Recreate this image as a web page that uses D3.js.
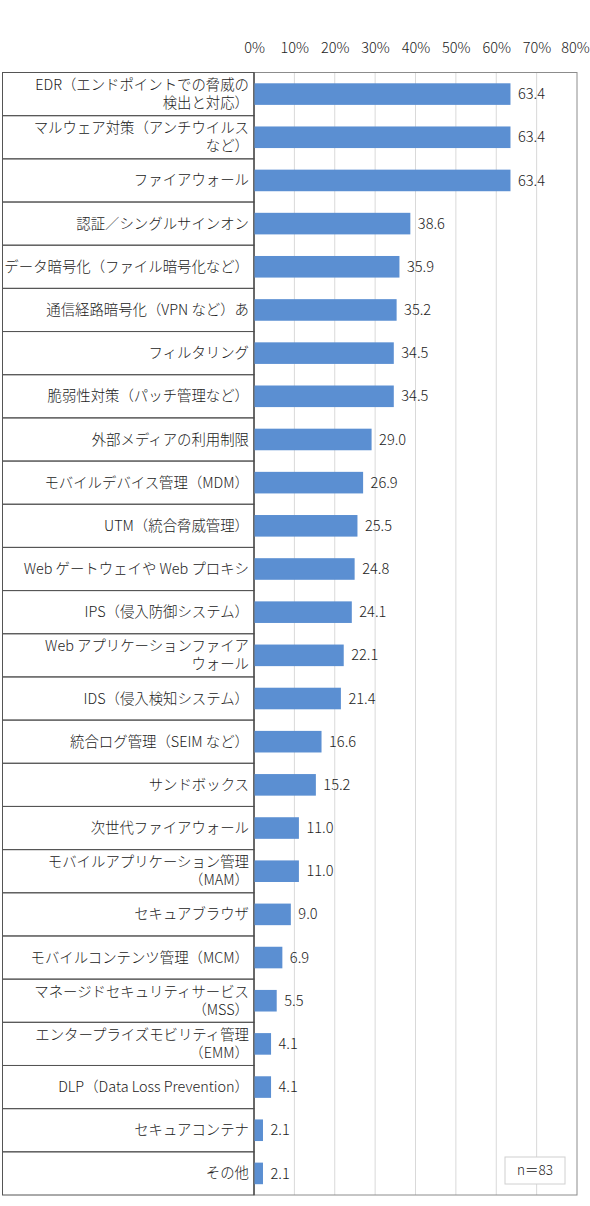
<!DOCTYPE html>
<html><head><meta charset="utf-8">
<script src="https://cdn.jsdelivr.net/npm/d3@7"></script>
<style>
html,body{margin:0;padding:0;background:#fff;}
text{font-family:"Noto Sans CJK JP","Noto Sans",sans-serif;font-weight:300;}
</style></head>
<body><svg id="c" width="590" height="1206"></svg>
<script>
const categories = [
 ["EDR（エンドポイントでの脅威の","検出と対応）"],
 ["マルウェア対策（アンチウイルス","など）"],
 ["ファイアウォール"],
 ["認証／シングルサインオン"],
 ["データ暗号化（ファイル暗号化など）"],
 ["通信経路暗号化（VPN など）あ"],
 ["フィルタリング"],
 ["脆弱性対策（パッチ管理など）"],
 ["外部メディアの利用制限"],
 ["モバイルデバイス管理（MDM）"],
 ["UTM（統合脅威管理）"],
 ["Web ゲートウェイや Web プロキシ"],
 ["IPS（侵入防御システム）"],
 ["Web アプリケーションファイア","ウォール"],
 ["IDS（侵入検知システム）"],
 ["統合ログ管理（SEIM など）"],
 ["サンドボックス"],
 ["次世代ファイアウォール"],
 ["モバイルアプリケーション管理","（MAM）"],
 ["セキュアブラウザ"],
 ["モバイルコンテンツ管理（MCM）"],
 ["マネージドセキュリティサービス","（MSS）"],
 ["エンタープライズモビリティ管理","（EMM）"],
 ["DLP（Data Loss Prevention）"],
 ["セキュアコンテナ"],
 ["その他"]
];
const values = [63.4,63.4,63.4,38.6,35.9,35.2,34.5,34.5,29.0,26.9,25.5,24.8,24.1,22.1,21.4,16.6,15.2,11.0,11.0,9.0,6.9,5.5,4.1,4.1,2.1,2.1];
const tickValues = [0,10,20,30,40,50,60,70,80];
const sampleNote = "n＝83";

(function(){
const svg = d3.select("#c");
const pL = 254, pR = 577, pT = 72.5, pB = 1195;
const x = d3.scaleLinear().domain([0,80]).range([pL,pR]);
const idx = d3.range(categories.length);
const y = d3.scaleBand().domain(idx).range([pT,pB]).paddingInner(0).paddingOuter(0);
const bh = y.bandwidth()*0.5;

svg.append("g").selectAll("line").data(tickValues.slice(1,-1)).join("line")
  .attr("x1",d=>x(d)).attr("x2",d=>x(d)).attr("y1",pT).attr("y2",pB)
  .attr("stroke","#d9d9d9").attr("stroke-width",1);

svg.append("rect").attr("x",pL).attr("y",pT).attr("width",pR-pL).attr("height",pB-pT)
  .attr("fill","none").attr("stroke","#8c8c8c").attr("stroke-width",1);

const ax = svg.append("g").attr("transform",`translate(0,${pT})`)
  .call(d3.axisTop(x).tickValues(tickValues).tickFormat(d=>d+"%").tickSize(0).tickPadding(20));
ax.select(".domain").remove();
ax.selectAll("text").attr("font-size",14.5).attr("fill","#222")
  .style("font-family","'Noto Sans CJK JP',sans-serif").style("font-weight","300");
ax.selectAll(".tick").filter(d=>d===80).select("text").attr("dx",-2);

const lab = svg.append("g");
lab.selectAll("rect").data(idx).join("rect")
  .attr("x",2.5).attr("y",d=>y(d)).attr("width",pL-2.5).attr("height",y.bandwidth())
  .attr("fill","none").attr("stroke","#555").attr("stroke-width",1);
lab.selectAll("text").data(idx).join("text")
  .attr("text-anchor","end").attr("font-size",14.4).attr("fill","#222")
  .each(function(d){
    const lines = categories[d];
    const cy = y(d)+y.bandwidth()/2;
    const t = d3.select(this);
    lines.forEach((s,i)=>{
      const off = lines.length===1 ? 0 : (i===0?-9:9);
      t.append("tspan").attr("x",249).attr("y",cy+off).attr("dy","0.35em").text(s);
    });
  });

svg.append("line").attr("x1",pL).attr("x2",pL).attr("y1",pT).attr("y2",pB)
  .attr("stroke","#444").attr("stroke-width",1);

svg.append("g").selectAll("rect").data(idx).join("rect")
  .attr("x",x(0)+0.5).attr("y",d=>y(d)+(y.bandwidth()-bh)/2)
  .attr("width",d=>x(values[d])-x(0)).attr("height",bh)
  .attr("fill","#5b8fd2");

svg.append("g").selectAll("text").data(idx).join("text")
  .attr("x",d=>x(values[d])+8).attr("y",d=>y(d)+y.bandwidth()/2).attr("dy","0.35em")
  .attr("font-size",14.6).attr("fill","#222")
  .text(d=>values[d].toFixed(1));

const nb = svg.append("g");
nb.append("rect").attr("x",505).attr("y",1157).attr("width",60).attr("height",27)
  .attr("fill","#fff").attr("stroke","#d0d0d0");
nb.append("text").attr("x",535).attr("y",1170.5).attr("dy","0.35em").attr("text-anchor","middle")
  .attr("font-size",13.5).attr("fill","#222").text(sampleNote);
})();
</script></body></html>
